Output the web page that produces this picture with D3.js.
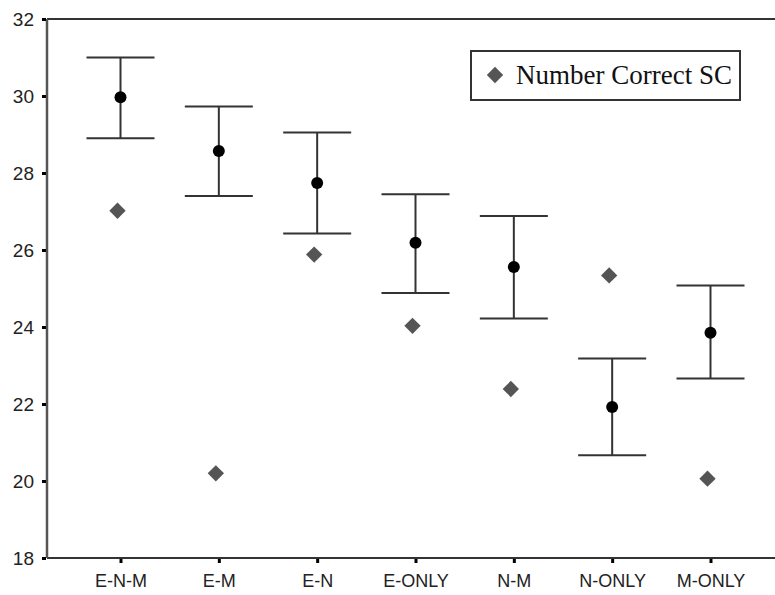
<!DOCTYPE html>
<html>
<head>
<meta charset="utf-8">
<script src="https://cdn.jsdelivr.net/npm/d3@7"></script>
<style>
  body { margin: 0; background: #fff; }
  svg { display: block; }
</style>
</head>
<body>
<svg id="chart" width="775" height="595"></svg>
<script>
const categories = ["E-N-M", "E-M", "E-N", "E-ONLY", "N-M", "N-ONLY", "M-ONLY"];
const meanValues = [29.97, 28.57, 27.74, 26.19, 25.56, 21.92, 23.85];
const upperValues = [31.0, 29.73, 29.05, 27.45, 26.88, 23.18, 25.08];
const lowerValues = [28.9, 27.4, 26.43, 24.88, 24.22, 20.67, 22.66];
const correctSC = [27.02, 20.2, 25.88, 24.03, 22.39, 25.34, 20.06];
const yTicks = [18, 20, 22, 24, 26, 28, 30, 32];
const legendLabel = "Number Correct SC";

(function () {
const svg = d3.select("#chart");
const pLeft = 47, pRight = 775, pTop = 19, pBottom = 558;

const x = d3.scalePoint().domain(categories).range([120.5, 710.5]);
const y = d3.scaleLinear().domain([18, 32]).range([pBottom, pTop]);

// frame lines
svg.append("line").attr("x1", pLeft).attr("x2", pRight).attr("y1", pTop).attr("y2", pTop)
  .attr("stroke", "#333").attr("stroke-width", 2);
svg.append("line").attr("x1", pLeft).attr("x2", pRight).attr("y1", pBottom).attr("y2", pBottom)
  .attr("stroke", "#333").attr("stroke-width", 2);
svg.append("line").attr("x1", pLeft).attr("x2", pLeft).attr("y1", pTop).attr("y2", pBottom)
  .attr("stroke", "#555").attr("stroke-width", 2.5);

// y axis
const yAxis = svg.append("g").attr("transform", `translate(${pLeft - 1},0)`)
  .call(d3.axisLeft(y).tickValues(yTicks).tickSize(4).tickPadding(8).tickFormat(d3.format("d")));
yAxis.select(".domain").remove();
yAxis.selectAll(".tick line").attr("stroke", "#000").attr("stroke-width", 3);
yAxis.selectAll(".tick text").attr("font-family", "Liberation Sans, Arial, sans-serif")
  .attr("font-size", 19).attr("fill", "#222");

// x axis
const xAxis = svg.append("g").attr("transform", `translate(0,${pBottom + 1})`)
  .call(d3.axisBottom(x).tickSize(4).tickPadding(11));
xAxis.select(".domain").remove();
xAxis.selectAll(".tick line").attr("stroke", "#000").attr("stroke-width", 3);
xAxis.selectAll(".tick text").attr("font-family", "Liberation Sans, Arial, sans-serif")
  .attr("font-size", 18).attr("fill", "#222");

const data = categories.map((c, i) => ({c, m: meanValues[i], u: upperValues[i], l: lowerValues[i], s: correctSC[i]}));
const capHalf = 34;

const g = svg.append("g");
g.selectAll(".stem").data(data).join("line").attr("class", "stem")
  .attr("x1", d => x(d.c)).attr("x2", d => x(d.c))
  .attr("y1", d => y(d.u)).attr("y2", d => y(d.l))
  .attr("stroke", "#333").attr("stroke-width", 2);
g.selectAll(".capU").data(data).join("line").attr("class", "capU")
  .attr("x1", d => x(d.c) - capHalf).attr("x2", d => x(d.c) + capHalf)
  .attr("y1", d => y(d.u)).attr("y2", d => y(d.u))
  .attr("stroke", "#333").attr("stroke-width", 2);
g.selectAll(".capL").data(data).join("line").attr("class", "capL")
  .attr("x1", d => x(d.c) - capHalf).attr("x2", d => x(d.c) + capHalf)
  .attr("y1", d => y(d.l)).attr("y2", d => y(d.l))
  .attr("stroke", "#333").attr("stroke-width", 2);
g.selectAll(".mean").data(data).join("circle").attr("class", "mean")
  .attr("cx", d => x(d.c)).attr("cy", d => y(d.m)).attr("r", 6)
  .attr("fill", "#000");

const diamond = d3.symbol().type(d3.symbolDiamond2).size(170);
g.selectAll(".sc").data(data).join("path").attr("class", "sc")
  .attr("d", diamond)
  .attr("transform", d => `translate(${x(d.c) - 3},${y(d.s)})`)
  .attr("fill", "#555");

// legend
const lg = svg.append("g");
lg.append("rect").attr("x", 471).attr("y", 51).attr("width", 269).attr("height", 49)
  .attr("fill", "#fff").attr("stroke", "#333").attr("stroke-width", 2);
lg.append("path").attr("d", diamond).attr("transform", "translate(495,75)").attr("fill", "#555");
lg.append("text").attr("x", 516).attr("y", 84)
  .attr("font-family", "Liberation Serif, Times New Roman, serif")
  .attr("font-size", 27).attr("fill", "#111").text(legendLabel);
})();
</script>
</body>
</html>
